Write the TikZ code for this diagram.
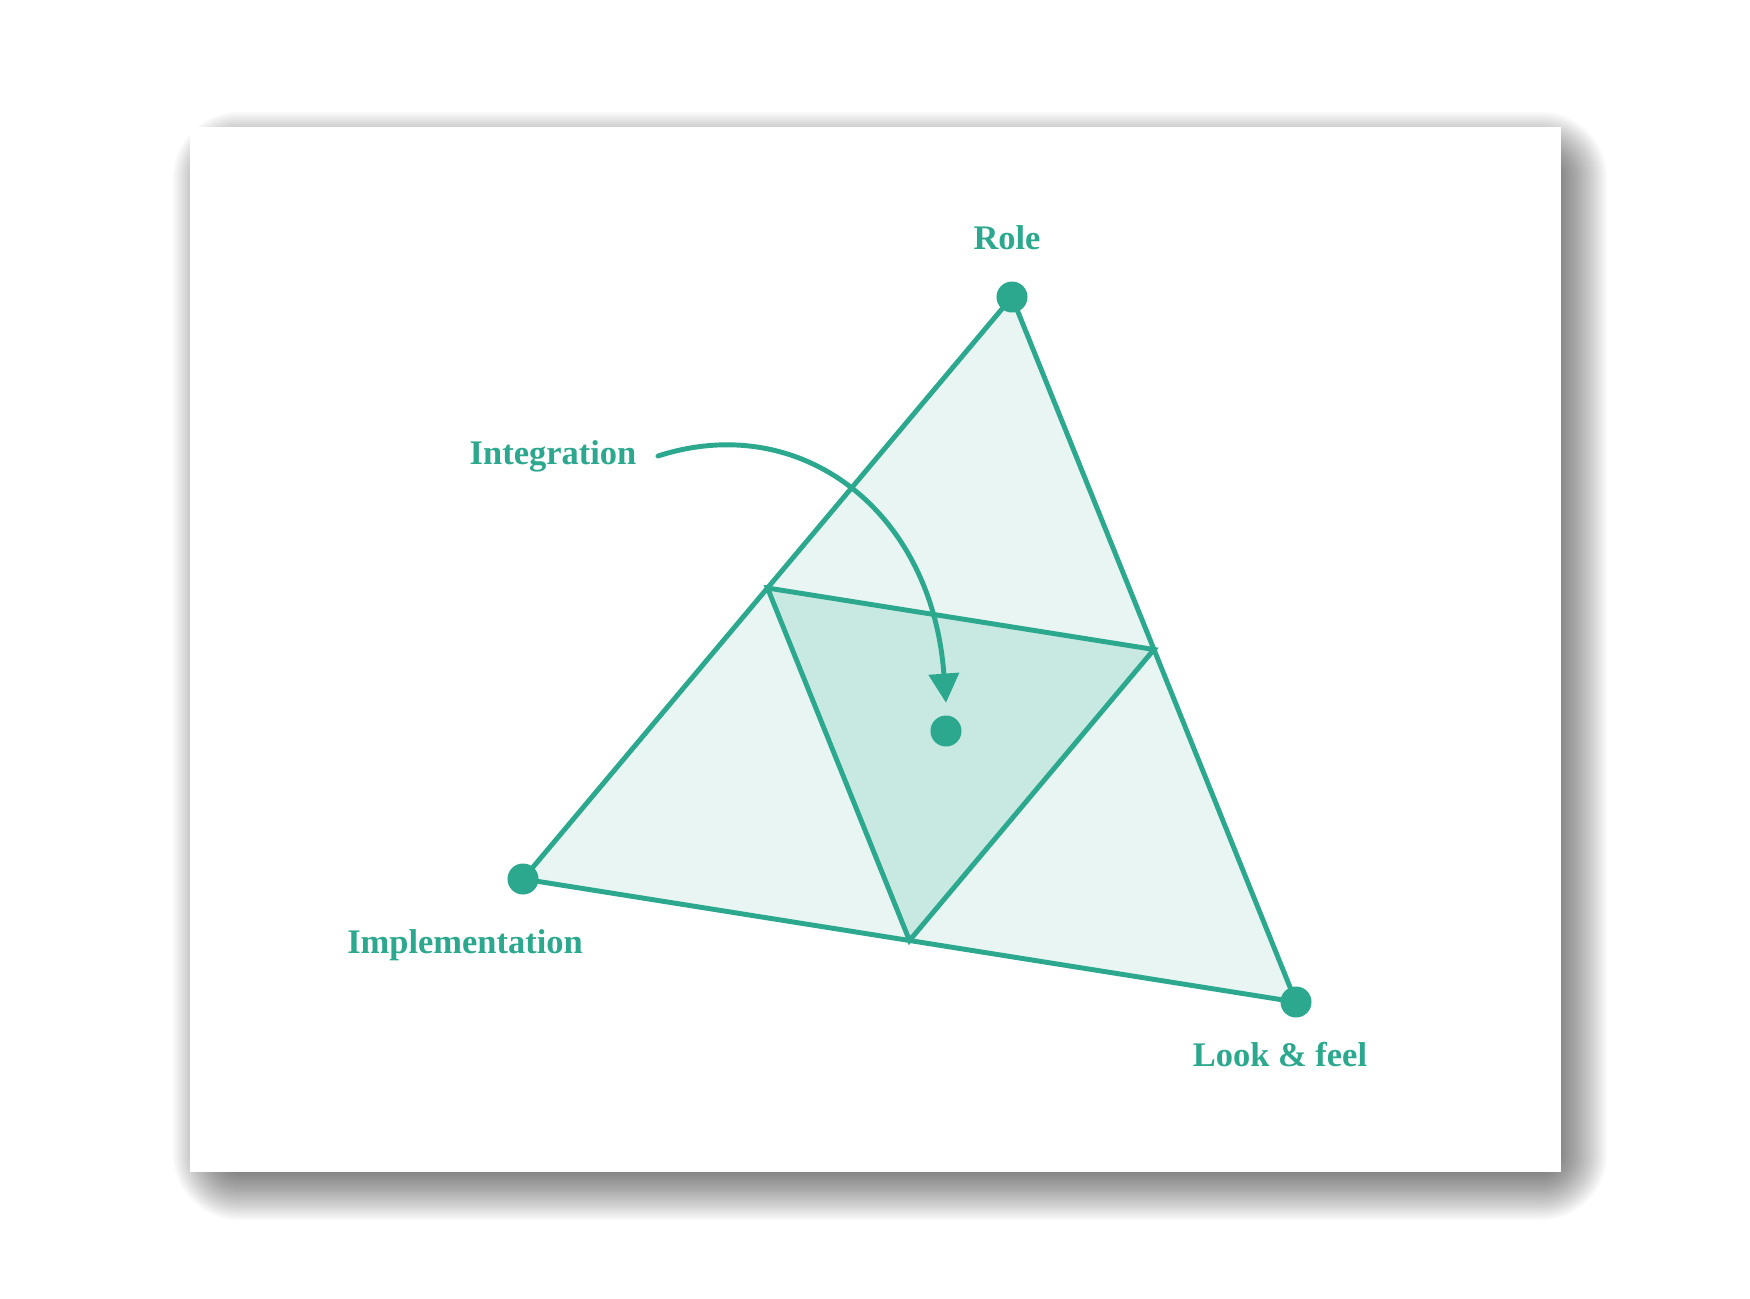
\documentclass[tikz,border=0pt]{standalone}
\usepackage{fontspec}
\setmainfont{Liberation Serif}
\usetikzlibrary{arrows.meta,calc}
\definecolor{tealc}{HTML}{2BA88E}
\definecolor{fillA}{HTML}{E8F5F2}
\definecolor{fillB}{HTML}{C8E9E2}
\tikzset{
  edgeline/.style={draw=tealc, line width=1.4pt, line join=miter},
  dot/.style={circle, fill=tealc, minimum size=0.31cm, inner sep=0pt},
  lbl/.style={text=tealc, font=\fontsize{9.8}{12}\selectfont\bfseries, anchor=base, inner sep=0pt},
  arr/.style={draw=tealc, line width=1.4pt, line cap=round, -{Triangle[length=8.3pt,width=8.5pt]}},
  shadowlayer/.style={fill=black, opacity=0.023},
}
\begin{document}
\begin{tikzpicture}[x=0.01cm,y=-0.01cm]
\useasboundingbox[fill=white] (0,0) rectangle (1750,1299);
% soft shadow built from stacked translucent layers
\foreach \e in {-32,-30,...,32}
  \fill[shadowlayer, rounded corners={(\e+34)*0.2845pt}] ({205-\e},{144-\e}) rectangle ({1575+\e},{1188+\e});
% card
\fill[white] (190,127) rectangle (1561,1172);
% vertices
\coordinate (R) at (1012,297);
\coordinate (I) at (523,879);
\coordinate (L) at (1296,1002);
\coordinate (RI) at ($(R)!0.5!(I)$);
\coordinate (RL) at ($(R)!0.5!(L)$);
\coordinate (IL) at ($(I)!0.5!(L)$);
% fills
\fill[fillA] (R) -- (I) -- (L) -- cycle;
\fill[fillB] (RI) -- (RL) -- (IL) -- cycle;
% lines
\draw[edgeline] (R) -- (I) -- (L) -- cycle;
\draw[edgeline] (RI) -- (RL) -- (IL) -- cycle;
% dots
\node[dot] (role) at (R) {};
\node[dot] (impl) at (I) {};
\node[dot] (look) at (L) {};
\node[dot] (cen) at (946,731) {};
% labels
\node[lbl] (lrole) at (1007,249) {Role};
\node[lbl] (linteg) at (553,464) {Integration};
\node[lbl] (limpl) at (465,953) {Implementation};
\node[lbl] (llook) at (1280,1066) {Look \& feel};
% arrow
\coordinate (astart) at (658,456);
\draw[arr] (astart) .. controls (800,410) and (932,510) .. ([yshift=0.12cm]cen.north);
\end{tikzpicture}
\end{document}
